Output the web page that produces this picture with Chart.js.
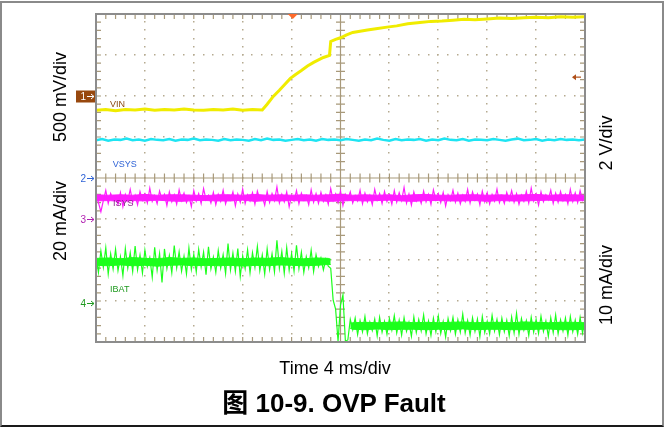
<!DOCTYPE html>
<html>
<head>
<meta charset="utf-8">
<script src="https://cdn.jsdelivr.net/npm/chart.js@4.4.1/dist/chart.umd.min.js"></script>
<style>
  html, body { margin: 0; padding: 0; background: #fff; }
  body { width: 664px; height: 427px; overflow: hidden; position: relative;
         font-family: "Liberation Sans", Arial, "Noto Sans CJK SC", sans-serif; }
  #frame { position: absolute; left: 0; top: 1px; width: 660px; height: 422px;
           border-top: 2px solid #8a8a8a; border-left: 2px solid #8a8a8a;
           border-right: 2px solid #8a8a8a; border-bottom: 2px solid #1a1a1a; }
  canvas { position: absolute; left: 0; top: 0; }
  .t { position: absolute; white-space: nowrap; color: #000; transform: translate(-50%, -50%); }
  .rot { transform: translate(-50%, -50%) rotate(-90deg); font-size: 18px; }
  #xlab { left: 335px; top: 368px; font-size: 18px; }
  #cap { left: 334px; top: 400px; font-size: 26px; font-weight: bold; }
</style>
</head>
<body>
<div id="frame"></div>
<canvas id="scope" width="664" height="427"></canvas>
<div class="t rot" style="left:60px;top:97px">500 mV/div</div>
<div class="t rot" style="left:60px;top:221px">20 mA/div</div>
<div class="t rot" style="left:606px;top:143px">2 V/div</div>
<div class="t rot" style="left:606px;top:285px">10 mA/div</div>
<div class="t" id="xlab">Time 4 ms/div</div>
<div class="t" id="cap">图 10-9. OVP Fault</div>
<script>
// screen is 10 x 8 divisions, time in ms (4 ms/div), traces in divisions from bottom
var timeTicks = [0, 4, 8, 12, 16, 20, 24, 28, 32, 36, 40]
var divTicks  = [0, 1, 2, 3, 4, 5, 6, 7, 8]
var sampleMs  = 0.2      // ISYS / IBAT record
var vsysMs    = 0.5
var envMs     = 1        // band envelope record

// CH1 VIN (500 mV/div)
var vinT = [0,0.8,1.6,2.4,3.2,4.0,4.8,5.6,6.4,7.2,8.0,8.8,9.6,10.4,11.2,12.0,12.8,13.6,
  14.0,14.5,15.0,15.4,15.9,16.3,16.8,17.3,17.8,18.2,18.6,19.1,19.2,19.6,20.0,20.5,21.0,21.6,
  22.2,22.9,23.8,24.6,25.5,26.5,27.4,28.3,29.2,30.1,31.0,32.0,33.0,34.0,35.0,36.0,37.0,38.0,39.0,40.0]
var vinV = [5.65,5.67,5.64,5.67,5.66,5.68,5.65,5.67,5.66,5.68,5.66,5.65,5.67,5.66,5.68,5.65,5.67,5.66,
  5.80,5.99,6.14,6.27,6.43,6.52,6.62,6.73,6.82,6.88,6.94,6.99,7.33,7.38,7.42,7.49,7.55,7.58,
  7.61,7.64,7.68,7.71,7.76,7.79,7.82,7.83,7.85,7.87,7.86,7.88,7.90,7.89,7.91,7.92,7.91,7.93,7.92,7.93]

// CH2 VSYS (2 V/div)
var vsysV = [4.92,4.95,4.91,4.94,4.93,4.96,4.92,4.94,4.91,4.95,4.93,4.92,4.95,4.91,4.94,4.93,4.96,4.92,4.94,4.93,
  4.91,4.95,4.92,4.94,4.93,4.91,4.95,4.92,4.96,4.93,4.94,4.91,4.93,4.95,4.92,4.94,4.91,4.95,4.93,4.94,
  4.92,4.95,4.93,4.91,4.94,4.92,4.96,4.93,4.91,4.95,4.92,4.94,4.93,4.95,4.91,4.94,4.92,4.96,4.93,4.92,
  4.95,4.91,4.94,4.93,4.92,4.95,4.93,4.91,4.94,4.96,4.92,4.93,4.95,4.91,4.94,4.92,4.95,4.93,4.94,4.92,4.94]

// CH3 ISYS (20 mA/div)
var isysV = [3.58,3.40,3.18,3.45,3.70,3.38,3.62,3.47,3.55,3.36,
  3.64,3.30,3.60,3.44,3.72,3.41,3.58,3.35,3.67,3.46,
  3.61,3.39,3.75,3.43,3.57,3.37,3.68,3.48,3.60,3.33,
  3.66,3.42,3.59,3.36,3.71,3.45,3.63,3.40,3.56,3.31,
  3.69,3.44,3.62,3.38,3.74,3.47,3.58,3.39,3.65,3.35,
  3.60,3.43,3.70,3.37,3.57,3.46,3.66,3.32,3.61,3.41,
  3.73,3.38,3.59,3.44,3.64,3.36,3.68,3.47,3.55,3.34,
  3.67,3.40,3.62,3.45,3.78,3.39,3.60,3.42,3.66,3.30,
  3.58,3.44,3.69,3.37,3.63,3.46,3.57,3.35,3.71,3.41,
  3.62,3.38,3.65,3.43,3.59,3.36,3.74,3.45,3.61,3.40,
  3.68,3.33,3.60,3.47,3.66,3.39,3.57,3.44,3.70,3.37,
  3.63,3.42,3.58,3.35,3.72,3.46,3.62,3.38,3.67,3.43,
  3.59,3.36,3.69,3.41,3.64,3.45,3.77,3.39,3.61,3.34,
  3.66,3.44,3.57,3.38,3.68,3.42,3.60,3.36,3.71,3.47,
  3.62,3.40,3.65,3.32,3.59,3.45,3.70,3.41,3.63,3.37,
  3.58,3.43,3.72,3.39,3.66,3.46,3.61,3.35,3.68,3.42,
  3.64,3.37,3.60,3.44,3.73,3.40,3.57,3.38,3.65,3.45,
  3.69,3.41,3.62,3.36,3.58,3.43,3.67,3.39,3.75,3.44,
  3.61,3.34,3.66,3.42,3.59,3.47,3.70,3.38,3.63,3.41,
  3.67,3.45,3.60,3.37,3.72,3.43,3.64,3.40,3.69,3.46,
  3.60]
var isysHi = [3.59,3.58,3.59,3.58,3.60,3.58,3.59,3.59,3.58,3.57,3.59,3.59,3.58,3.60,3.58,3.59,3.58,3.59,3.58,3.59,
  3.60,3.58,3.59,3.58,3.59,3.57,3.59,3.60,3.58,3.58,3.59,3.59,3.58,3.59,3.58,3.59,3.60,3.58,3.59,3.59,3.58]
var isysLo = [3.44,3.45,3.43,3.45,3.44,3.46,3.44,3.43,3.45,3.45,3.44,3.44,3.46,3.43,3.45,3.44,3.45,3.44,3.45,3.43,
  3.44,3.45,3.44,3.45,3.46,3.44,3.43,3.45,3.45,3.44,3.44,3.45,3.43,3.45,3.44,3.44,3.45,3.46,3.44,3.44,3.45]

// CH4 IBAT (10 mA/div)
var ibatV = [2.10,1.70,2.22,1.82,2.30,1.66,2.15,1.78,2.26,1.74,
  2.08,1.62,2.28,1.80,2.18,1.72,2.34,1.76,2.12,1.68,
  2.24,1.84,2.06,1.58,2.31,1.75,2.16,1.45,2.27,1.79,
  2.11,1.69,2.35,1.81,2.20,1.73,2.09,1.66,2.29,1.77,
  2.14,1.71,2.26,1.83,2.19,1.64,2.32,1.78,2.07,1.70,
  2.23,1.80,2.13,1.67,2.40,1.76,2.17,1.72,2.28,1.60,
  2.10,1.79,2.25,1.69,2.18,1.82,2.33,1.74,2.12,1.66,
  2.27,1.77,2.15,1.71,2.48,1.80,2.21,1.68,2.30,1.75,
  2.16,1.73,2.36,1.79,2.19,1.70,2.08,1.81,2.24,1.72,
  2.13,1.84,2.05,1.76,2.02,1.85,
  1.80,1.02,0.80,0.02,0.90,1.15,0.02,0.05,0.55,
  0.30,0.58,0.18,0.52,0.25,0.62,0.20,0.49,0.28,0.56,
  0.15,0.60,0.24,0.50,0.19,0.57,0.29,0.64,0.22,0.53,
  0.17,0.59,0.26,0.48,0.14,0.61,0.23,0.55,0.27,0.66,
  0.20,0.51,0.16,0.58,0.25,0.63,0.21,0.50,0.12,0.57,
  0.28,0.60,0.19,0.54,0.24,0.68,0.22,0.52,0.17,0.59,
  0.26,0.56,0.13,0.62,0.23,0.50,0.20,0.65,0.27,0.55,
  0.18,0.58,0.25,0.53,0.15,0.61,0.22,0.70,0.19,0.57,
  0.29,0.52,0.16,0.60,0.24,0.55,0.21,0.63,0.26,0.51,
  0.14,0.59,0.23,0.66,0.20,0.54,0.27,0.58,0.17,0.62,
  0.25,0.53,0.19,0.60,0.22,0.56]
var ibatPreT  = [0,1,2,3,4,5,6,7,8,9,10,11,12,13,14,15,16,17,18,19,19.2]
var ibatPreHi = [2.04,2.05,2.03,2.06,2.04,2.03,2.06,2.04,2.05,2.03,2.04,2.05,2.03,2.05,2.04,2.06,2.04,2.03,2.05,2.04,2.02]
var ibatPreLo = [1.87,1.86,1.88,1.86,1.87,1.85,1.87,1.88,1.86,1.87,1.86,1.87,1.85,1.87,1.86,1.88,1.87,1.86,1.87,1.89,1.89]
var ibatPostT  = [20.8,21,22,23,24,25,26,27,28,29,30,31,32,33,34,35,36,37,38,39,40]
var ibatPostHi = [0.46,0.47,0.48,0.47,0.48,0.49,0.47,0.48,0.47,0.48,0.49,0.47,0.48,0.48,0.47,0.49,0.48,0.47,0.48,0.48,0.47]
var ibatPostLo = [0.33,0.31,0.30,0.32,0.30,0.31,0.31,0.30,0.31,0.30,0.32,0.30,0.31,0.31,0.30,0.30,0.31,0.32,0.30,0.30,0.31]

// channel labels / ground markers, in screen units
var traceNames   = ['VIN', 'VSYS', 'ISYS', 'IBAT']
var traceLabelAt = [[1.15, 5.8], [1.36, 4.32], [1.39, 3.37], [1.15, 1.29]]
var chMarkers    = [6.0, 4.0, 3.0, 0.95]
var trigTime     = 16.1
var trigLevel    = 6.46

function sampled(vals, dt){
  return vals.map(function(v, i){ return { x: i * dt, y: v } })
}
function paired(ts, vs){
  return ts.map(function(t, i){ return { x: t, y: vs[i] } })
}

var tan = '#a8997a'

var graticule = {
  id: 'graticule',
  beforeDatasetsDraw: function(chart){
    var ctx = chart.ctx, a = chart.chartArea, x = chart.scales.x, y = chart.scales.y
    var xc = x.getPixelForValue(20), yc = y.getPixelForValue(4)
    ctx.save()
    ctx.fillStyle = '#b5aa90'
    // dotted division lines
    timeTicks.forEach(function(t, i){
      if (i === 0 || i === 5 || i === 10) return
      var px = Math.round(x.getPixelForValue(t))
      for (var k = 1; k < 40; k++){
        var py = Math.round(y.getPixelForValue(k / 5))
        ctx.fillRect(px - 1, py - 1, 1.5, 1.5)
      }
    })
    divTicks.forEach(function(d, j){
      if (j === 0 || j === 4 || j === 8) return
      var py = Math.round(y.getPixelForValue(d))
      for (var k = 1; k < 50; k++){
        var px = Math.round(x.getPixelForValue(k * 0.8))
        ctx.fillRect(px - 1, py - 1, 1.5, 1.5)
      }
    })
    // centre cross with minor ticks
    ctx.strokeStyle = tan
    ctx.lineWidth = 1.2
    ctx.beginPath()
    ctx.moveTo(xc, a.top); ctx.lineTo(xc, a.bottom)
    ctx.moveTo(a.left, yc); ctx.lineTo(a.right, yc)
    for (var k = 1; k < 40; k++){
      var py = y.getPixelForValue(k / 5)
      ctx.moveTo(xc - 4.5, py); ctx.lineTo(xc + 4.5, py)
      ctx.moveTo(a.left, py); ctx.lineTo(a.left + 5, py)
      ctx.moveTo(a.right, py); ctx.lineTo(a.right - 5, py)
    }
    for (var m = 1; m < 50; m++){
      var px = x.getPixelForValue(m * 0.8)
      ctx.moveTo(px, yc - 4.5); ctx.lineTo(px, yc + 4.5)
      ctx.moveTo(px, a.top); ctx.lineTo(px, a.top + 5)
      ctx.moveTo(px, a.bottom); ctx.lineTo(px, a.bottom - 5)
    }
    ctx.stroke()
    ctx.restore()
  },
  afterDraw: function(chart){
    var ctx = chart.ctx, a = chart.chartArea, x = chart.scales.x, y = chart.scales.y
    ctx.save()
    ctx.strokeStyle = '#8c8c8c'
    ctx.lineWidth = 2
    ctx.strokeRect(a.left, a.top, a.right - a.left, a.bottom - a.top)

    // trace names
    var nameCols = ['#8a4a12', '#2f63d6', '#8d1f8d', '#1f9a1f']
    ctx.font = '9px "Liberation Sans", Arial, sans-serif'
    ctx.textBaseline = 'middle'
    traceNames.forEach(function(n, i){
      ctx.fillStyle = nameCols[i]
      ctx.fillText(n, x.getPixelForValue(traceLabelAt[i][0]), y.getPixelForValue(traceLabelAt[i][1]))
    })

    // ground markers on the left edge
    var mkCols = ['#98480e', '#2f63d6', '#b01fb0', '#1f9a1f']
    chMarkers.forEach(function(lv, i){
      var py = Math.round(y.getPixelForValue(lv)) + 0.5
      ctx.fillStyle = mkCols[i]
      ctx.strokeStyle = i === 0 ? '#fff' : mkCols[i]
      if (i === 0) ctx.fillRect(a.left - 20, py - 6, 19, 12)
      ctx.fillStyle = i === 0 ? '#fff' : mkCols[i]
      ctx.font = '10px "Liberation Sans", Arial, sans-serif'
      ctx.textAlign = 'right'
      ctx.fillText(String(i + 1), a.left - 10, py + 0.5)
      ctx.lineWidth = 1
      ctx.beginPath()
      ctx.moveTo(a.left - 9, py); ctx.lineTo(a.left - 2, py)
      ctx.moveTo(a.left - 5, py - 2.5); ctx.lineTo(a.left - 2, py); ctx.lineTo(a.left - 5, py + 2.5)
      ctx.stroke()
    })

    // trigger position and level
    var tx = x.getPixelForValue(trigTime)
    ctx.fillStyle = '#ff6a2a'
    ctx.beginPath()
    ctx.moveTo(tx - 5, a.top); ctx.lineTo(tx + 5, a.top); ctx.lineTo(tx, a.top + 5)
    ctx.closePath(); ctx.fill()
    var ty = y.getPixelForValue(trigLevel)
    ctx.strokeStyle = '#b0501a'
    ctx.fillStyle = '#b0501a'
    ctx.lineWidth = 1.2
    ctx.beginPath()
    ctx.moveTo(a.right - 4, ty); ctx.lineTo(a.right - 12, ty)
    ctx.stroke()
    ctx.beginPath()
    ctx.moveTo(a.right - 13, ty); ctx.lineTo(a.right - 9, ty - 3); ctx.lineTo(a.right - 9, ty + 3)
    ctx.closePath(); ctx.fill()
    ctx.restore()
  }
}

function trace(label, pts, color, w){
  return { label: label, data: pts, borderColor: color, borderWidth: w,
           pointRadius: 0, tension: 0, fill: false }
}
// solid core of a noisy trace: upper envelope filled down to the next dataset
function band(label, pts, color){
  return { label: label, data: pts, borderColor: color, backgroundColor: color, borderWidth: 1,
           pointRadius: 0, tension: 0, fill: '+1' }
}

new Chart(document.getElementById('scope'), {
  type: 'line',
  data: {
    datasets: [
      trace('VIN', paired(vinT, vinV), '#f0ec00', 3),
      trace('VSYS', sampled(vsysV, vsysMs), '#1ee4f2', 2.5),
      trace('ISYS', sampled(isysV, sampleMs), '#ff1cff', 1.2),
      trace('IBAT', sampled(ibatV, sampleMs), '#1cff1c', 1.2),
      band('ISYS hi', sampled(isysHi, envMs), '#ff1cff'),
      trace('ISYS lo', sampled(isysLo, envMs), '#ff1cff', 1),
      band('IBAT hi', paired(ibatPreT, ibatPreHi), '#1cff1c'),
      trace('IBAT lo', paired(ibatPreT, ibatPreLo), '#1cff1c', 1),
      band('IBAT hi 2', paired(ibatPostT, ibatPostHi), '#1cff1c'),
      trace('IBAT lo 2', paired(ibatPostT, ibatPostLo), '#1cff1c', 1)
    ]
  },
  options: {
    responsive: false,
    animation: false,
    events: [],
    layout: { padding: { left: 96, right: 79, top: 14, bottom: 85 } },
    plugins: { legend: { display: false }, tooltip: { enabled: false } },
    scales: {
      x: { type: 'linear', min: 0, max: 40, display: false },
      y: { type: 'linear', min: 0, max: 8, display: false }
    }
  },
  plugins: [graticule]
})
</script>
</body>
</html>
